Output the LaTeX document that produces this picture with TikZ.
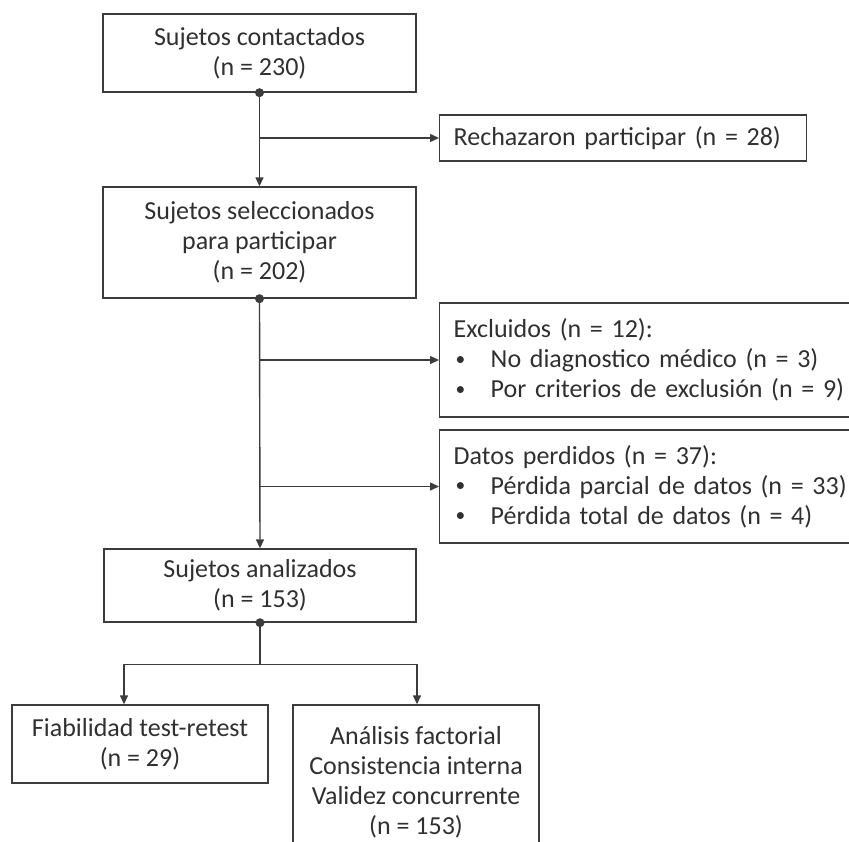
\documentclass[tikz,border=0pt]{standalone}
\usepackage{fontspec}
\setmainfont{Carlito}
\usepackage{tikz}
\usetikzlibrary{arrows.meta,positioning,calc}
\definecolor{linegray}{HTML}{3C3C3C}
\definecolor{txtgray}{HTML}{303030}
\newcommand{\itembul}{\makebox[37pt][l]{\hspace{2pt}\raisebox{0.2ex}{\scalebox{0.75}{\textbullet}}}}

\begin{document}
\begin{tikzpicture}
    [
      x = 1pt, y = -1pt,
      box/.style = {draw=linegray, line width=1.4pt, text=txtgray, align=center, inner sep=0pt,
                    font=\fontsize{26}{30}\selectfont},
      listbox/.style = {box, anchor=west, align=left, inner xsep=14pt, text width=440pt},
      flow/.style = {draw=linegray, line width=1.4pt, -{Triangle[length=9pt,width=8pt]}},
      plain/.style = {draw=linegray, line width=1.4pt},
      joint/.style = {fill=linegray},
    ]
   
    \clip (0,0) rectangle (849,841);

    % main column
    \node[box, minimum width=313pt, minimum height=78pt] (contactados) at (259.5,53)
      {Sujetos contactados\\(n = 230)};
    \node[box, minimum width=313pt, minimum height=111pt] (seleccionados) at (259.5,242.5)
      {Sujetos seleccionados\\para participar\\(n = 202)};
    \node[box, minimum width=312pt, minimum height=73pt] (analizados) at (260,585.5)
      {Sujetos analizados\\(n = 153)};

    % side boxes
    \node[box, anchor=west, align=left, inner xsep=14pt, text width=339pt, minimum height=46pt] (rechazaron) at (439,138)
      {Rechazaron participar (n = 28)};
    \node[listbox, minimum height=114pt] (excluidos) at (439,360)
      {Excluidos (n = 12):\\
       \itembul No diagnostico médico (n = 3)\\
       \itembul Por criterios de exclusión (n = 9)};
    \node[listbox, minimum height=113pt] (perdidos) at (439,486.5)
      {Datos perdidos (n = 37):\\
       \itembul Pérdida parcial de datos (n = 33)\\
       \itembul Pérdida total de datos (n = 4)};

    % bottom boxes
    \node[box, minimum width=256pt, minimum height=78pt] (fiabilidad) at (140,744)
      {Fiabilidad test-retest\\(n = 29)};
    \node[box, minimum width=246pt, minimum height=154pt] (factorial) at (416,782)
      {Análisis factorial\\Consistencia interna\\Validez concurrente\\(n = 153)};

    % connectors
    \draw[flow] (contactados.south) -- (seleccionados.north);
    \draw[flow] (contactados.south |- rechazaron.west) -- (rechazaron.west);
    \draw[flow] (seleccionados.south) -- (analizados.north);
    \draw[flow] (seleccionados.south |- excluidos.west) -- (excluidos.west);
    \draw[flow] (seleccionados.south |- perdidos.west) -- (perdidos.west);

    \coordinate (split) at ($(analizados.south)+(0,42)$);
    \coordinate (toFiab) at ($(fiabilidad.north)+(-16,0)$);
    \coordinate (toFact) at ($(factorial.north)+(1,0)$);
    \draw[plain] (analizados.south) -- (split);
    \draw[flow] (split) -| (toFiab);
    \draw[flow] (split) -| (toFact);

    \fill[joint] (contactados.south) circle (4.5pt);
    \fill[joint] (seleccionados.south) circle (4.5pt);
    \fill[joint] (analizados.south) circle (4.5pt);
  \end{tikzpicture}
\end{document}
